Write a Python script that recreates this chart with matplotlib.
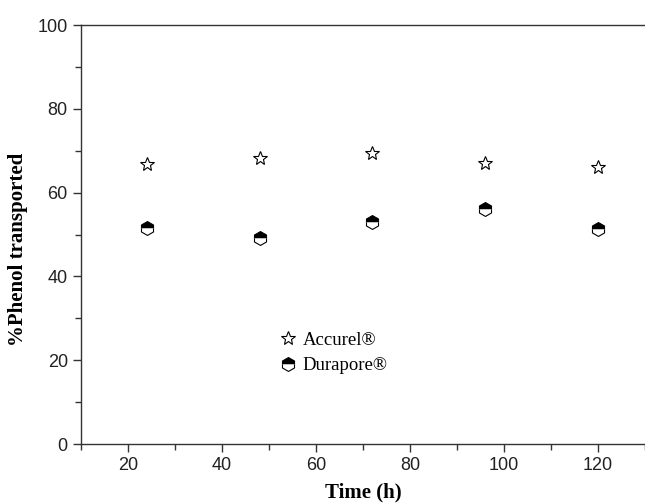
import matplotlib
matplotlib.use('Agg')
import matplotlib.pyplot as plt

# Time points and % phenol transported for each membrane
time_h = [24, 48, 72, 96, 120]
accurel = [66.8, 68.2, 69.6, 67.1, 66.1]
durapore = [51.5, 49.1, 53.1, 56.1, 51.4]

fig = plt.figure(figsize=(6.45, 5.04), dpi=100)
ax = fig.add_axes([0.1256, 0.119, 0.8744, 0.831])

ax.plot(time_h, accurel, linestyle='none', marker='*', markersize=10,
        markerfacecolor='white', markeredgecolor='black', markeredgewidth=0.8,
        label='Accurel®')
ax.plot(time_h, durapore, linestyle='none', marker='h', markersize=10,
        fillstyle='top', markerfacecolor='black', markerfacecoloralt='white',
        markeredgecolor='black', markeredgewidth=0.8, label='Durapore®')

ax.set_xlim(10, 130)
ax.set_ylim(0, 100)
ax.set_xticks([20, 40, 60, 80, 100, 120])
ax.set_xticks(range(10, 131, 10), minor=True)
ax.set_yticks([0, 20, 40, 60, 80, 100])
ax.set_yticks(range(10, 100, 20), minor=True)

for s in ['left', 'bottom', 'top']:
    ax.spines[s].set_color('#333333')
    ax.spines[s].set_linewidth(1.0)
ax.spines['right'].set_visible(False)

ax.tick_params(which='major', direction='out', length=6, width=1, colors='#333333',
               labelsize=13, labelcolor='#222222')
ax.tick_params(which='minor', direction='out', length=4, width=1, colors='#333333')
for lab in ax.get_xticklabels() + ax.get_yticklabels():
    lab.set_family('Liberation Sans')

ax.set_xlabel('Time (h)', family='Liberation Serif', fontweight='bold', fontsize=15, labelpad=6)
ax.set_ylabel('%Phenol transported', family='Liberation Serif', fontweight='bold', fontsize=15)
ax.yaxis.set_label_coords(-0.094, 0.465)

leg = ax.legend(loc='center', bbox_to_anchor=(0.445, 0.217), frameon=False,
                prop={'family': 'Liberation Serif', 'size': 13.5},
                handletextpad=0.2, labelspacing=0.45, handlelength=1.2)

fig.savefig('out.png', dpi=100)
